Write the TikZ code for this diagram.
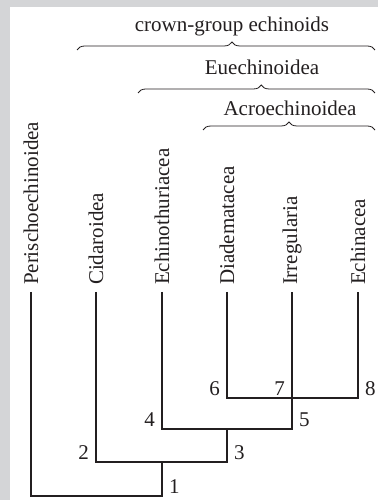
\documentclass[tikz,border=0pt]{standalone}
\usepackage{fontspec}
\setmainfont{Liberation Serif}
\usetikzlibrary{decorations.pathreplacing}

\definecolor{panelgrey}{RGB}{212,213,215}
\definecolor{ink}{RGB}{35,31,32}

\begin{document}
\begin{tikzpicture}[
    x=1pt, y=1pt,
    font=\fontsize{21}{25}\selectfont,
    taxon/.style={rotate=90, anchor=west, inner sep=0pt, outer xsep=7pt, text=ink},
    num/.style={inner sep=0pt, text=ink},
    group/.style={anchor=base, inner sep=0pt, text=ink},
    branch/.style={draw=ink, line width=1.7pt},
    clade/.style={draw=ink, line width=0.8pt, decorate, decoration={brace, amplitude=8pt, aspect=#1}},
    clade/.default=0.5,
]
% Background panel
\fill[panelgrey] (0,0) rectangle (378,500);
\fill[white] (10,0) rectangle (378,493);

% Taxa
\node[taxon] (peri) at (31,208) {Perischoechinoidea};
\node[taxon] (cida) at (96,208) {Cidaroidea};
\node[taxon] (echt) at (162,208) {Echinothuriacea};
\node[taxon] (diad) at (227,208) {Diadematacea};
\node[taxon] (irre) at (292,208) {Irregularia};
\node[taxon] (echi) at (358,208) {Echinacea};

% Branch points
\coordinate (n1) at (162,4);
\coordinate (n2) at (96,38);
\coordinate (n3) at (227,38);
\coordinate (n4) at (162,71);
\coordinate (n5) at (292,71);
\coordinate (n6) at (227,102);
\coordinate (n7) at (292,102);
\coordinate (n8) at (358,102);

% Tree
\draw[branch] (peri.west) |- (n1) -- (n1 |- n2);
\draw[branch] (cida.west) |- (n3) -- (n3 |- n4);
\draw[branch] (echt.west) |- (n5) -- (irre.west);
\draw[branch] (diad.west) |- (n8) -- (echi.west);

% Node numbers
\node[num, anchor=south west] (l1) at ([shift={(7,2)}]n1) {1};
\node[num, anchor=south east] (l2) at ([shift={(-7,2)}]n2) {2};
\node[num, anchor=south west] (l3) at ([shift={(7,2)}]n3) {3};
\node[num, anchor=south east] (l4) at ([shift={(-7,2)}]n4) {4};
\node[num, anchor=south west] (l5) at ([shift={(7,2)}]n5) {5};
\node[num, anchor=south east] (l6) at ([shift={(-7,2)}]n6) {6};
\node[num, anchor=south east] (l7) at ([shift={(-7,2)}]n7) {7};
\node[num, anchor=south west] (l8) at ([shift={(7,2)}]n8) {8};

% Groups
\draw[clade=0.52] (77,450) -- (375,450);
\node[group] (crown) at (232,468) {crown-group echinoids};
\draw[clade=0.52] (138,407) -- (375,407);
\node[group] (euech) at (262,425) {Euechinoidea};
\draw[clade] (203,370) -- (375,370);
\node[group] (acro) at (290,384) {Acroechinoidea};
\end{tikzpicture}
\end{document}
